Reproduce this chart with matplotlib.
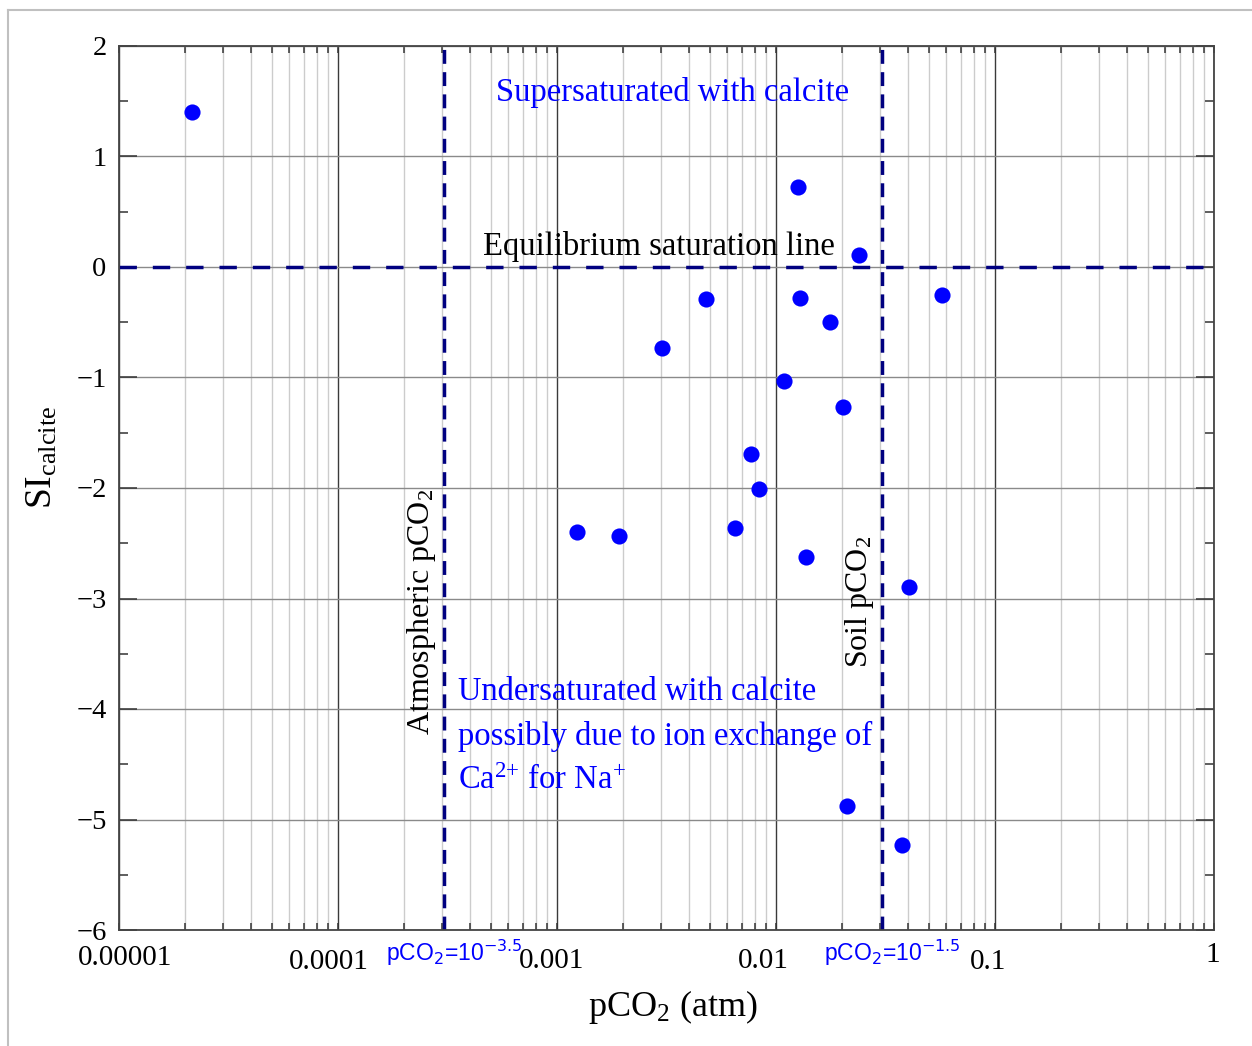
import numpy as np
import matplotlib.pyplot as plt
from matplotlib.lines import Line2D
from matplotlib.transforms import ScaledTranslation
from matplotlib.ticker import LogLocator, FixedLocator, MultipleLocator, NullFormatter

# ---------------------------------------------------------
# data
# ---------------------------------------------------------
pco2 = [2.15e-5, 0.0126, 0.0239, 0.0573, 0.00479, 0.0129, 0.0177, 0.00301,
        0.0109, 0.0202, 0.00769, 0.00835, 0.00123, 0.00192, 0.0065, 0.0137,
        0.0405, 0.0211, 0.0376]
si_calcite = [1.40, 0.72, 0.11, -0.25, -0.29, -0.28, -0.50, -0.73,
              -1.03, -1.27, -1.69, -2.01, -2.40, -2.43, -2.36, -2.62,
              -2.90, -4.88, -5.23]

# reference lines (as drawn in the chart, nominally 10^-3.5 and 10^-1.5)
atm_line_x = 3.05e-4
soil_line_x = 0.0305
atm_label = 'pCO$_2$=10$^{-3.5}$'
soil_label = 'pCO$_2$=10$^{-1.5}$'

x_ticks = [1e-5, 1e-4, 1e-3, 1e-2, 1e-1, 1]
x_ticklabels = ['0.00001', '0.0001', '0.001', '0.01', '0.1', '1']
y_ticks = [2, 1, 0, -1, -2, -3, -4, -5, -6]

# the x tick labels in the original are slightly staggered (pixel nudges)
xlab_dx = [6, -9, -5, -13, -7, -1]
xlab_yc = [958, 962, 961, 961, 962, 955]

W, H = 1252, 1046
plt.rcParams['font.family'] = ['Liberation Serif', 'DejaVu Serif']
plt.rcParams['mathtext.fontset'] = 'custom'
plt.rcParams['mathtext.rm'] = 'Liberation Serif'
plt.rcParams['mathtext.it'] = 'Liberation Serif:italic'

fig = plt.figure(figsize=(W / 100, H / 100), dpi=100)
ax_l, ax_r, ax_t, ax_b = 119, 1214, 46, 930
ax = fig.add_axes([ax_l / W, 1 - ax_b / H, (ax_r - ax_l) / W, (ax_b - ax_t) / H])


def fy(py):
    # pixel row -> axes fraction
    return (ax_b - py) / (ax_b - ax_t)


def fx(px):
    return (px - ax_l) / (ax_r - ax_l)


ax.set_xscale('log')
ax.set_xlim(1e-5, 1)
ax.set_ylim(-6, 2)

# ticks and grid
ax.xaxis.set_major_locator(FixedLocator(x_ticks))
ax.xaxis.set_minor_locator(LogLocator(base=10, subs=np.arange(2, 10)))
ax.xaxis.set_minor_formatter(NullFormatter())
ax.set_xticklabels([])
ax.yaxis.set_major_locator(FixedLocator(y_ticks))
ax.yaxis.set_minor_locator(MultipleLocator(0.5))
ax.set_yticklabels([str(v).replace('-', '\u2212') for v in y_ticks])
ax.grid(which='major', axis='x', color='#3a3a3a', lw=1.0)
ax.grid(which='minor', axis='x', color='#cccccc', lw=1.0)
ax.grid(which='major', axis='y', color='#8a8a8a', lw=1.0)
ax.set_axisbelow(True)

ax.tick_params(which='both', direction='in', top=True, right=True, color='#333333', width=1.1)
ax.tick_params(axis='x', which='major', length=5)
ax.tick_params(axis='x', which='minor', length=5)
ax.tick_params(axis='y', which='major', length=13, labelsize=20.5, pad=9)
ax.tick_params(axis='y', which='minor', length=6.5)
for s in ax.spines.values():
    s.set_color('#444444')
    s.set_linewidth(1.3)

# x tick labels, placed as text so the small stagger can be kept
xtr = ax.get_xaxis_transform()
for xv, lab, dx, yc in zip(x_ticks, x_ticklabels, xlab_dx, xlab_yc):
    ax.text(xv, fy(yc), lab, fontsize=21, ha='center', va='center',
            transform=xtr + ScaledTranslation(dx / 100, 0, fig.dpi_scale_trans), clip_on=False)

# reference lines
navy = '#000080'
ax.axhline(0, color=navy, lw=2.5, ls=(0, (5, 4.6)))
ax.axvline(atm_line_x, color=navy, lw=2.5, ls=(0, (4, 2.4)))
ax.axvline(soil_line_x, color=navy, lw=2.5, ls=(0, (4, 2.4)))

ax.scatter(pco2, si_calcite, s=135, color='#0000ff', zorder=5, linewidths=0)

# annotations
ax.text(fx(673), fy(93), 'Supersaturated with calcite', transform=ax.transAxes,
        color='#0000ff', fontsize=23.5, ha='center', va='center')
ax.text(fx(659), fy(247), 'Equilibrium saturation line', transform=ax.transAxes,
        color='black', fontsize=23.5, ha='center', va='center')
ax.text(fx(421), fy(612), 'Atmospheric pCO$_2$', transform=ax.transAxes,
        color='black', fontsize=23, ha='center', va='center', rotation=90)
ax.text(fx(860), fy(602), 'Soil pCO$_2$', transform=ax.transAxes,
        color='black', fontsize=23, ha='center', va='center', rotation=90)
ax.text(fx(458), fy(736), 'Undersaturated with calcite\npossibly due to ion exchange of\nCa$^{2{+}}$ for Na$^{+}$',
        transform=ax.transAxes, color='#0000ff', fontsize=23.5, ha='left', va='center',
        linespacing=1.58)

# blue labels under the axis for the two reference pCO2 values
for xv, lab in [(atm_line_x, atm_label), (soil_line_x, soil_label)]:
    ax.text(xv, fy(961), lab, color='#0000ff', fontsize=16.5, ha='left', va='baseline',
            family='Liberation Sans', math_fontfamily='dejavusans', clip_on=False,
            transform=xtr + ScaledTranslation(-58 / 100, 0, fig.dpi_scale_trans))

ax.set_xlabel('pCO$_2$ (atm)', fontsize=26)
ax.xaxis.set_label_coords(fx(673), fy(988))
ax.set_ylabel('SI$_{\\mathrm{calcite}}$', fontsize=27)
ax.yaxis.set_label_coords(fx(60), fy(457))

# thin frame lines on left and top of the figure
fig.add_artist(Line2D([8 / W, 8 / W], [0, 1 - 10 / H], transform=fig.transFigure,
                      color='#c0c0c0', lw=1.5))
fig.add_artist(Line2D([8 / W, 1], [1 - 10 / H, 1 - 10 / H], transform=fig.transFigure,
                      color='#c0c0c0', lw=1.5))

fig.savefig('out.png', dpi=100)
